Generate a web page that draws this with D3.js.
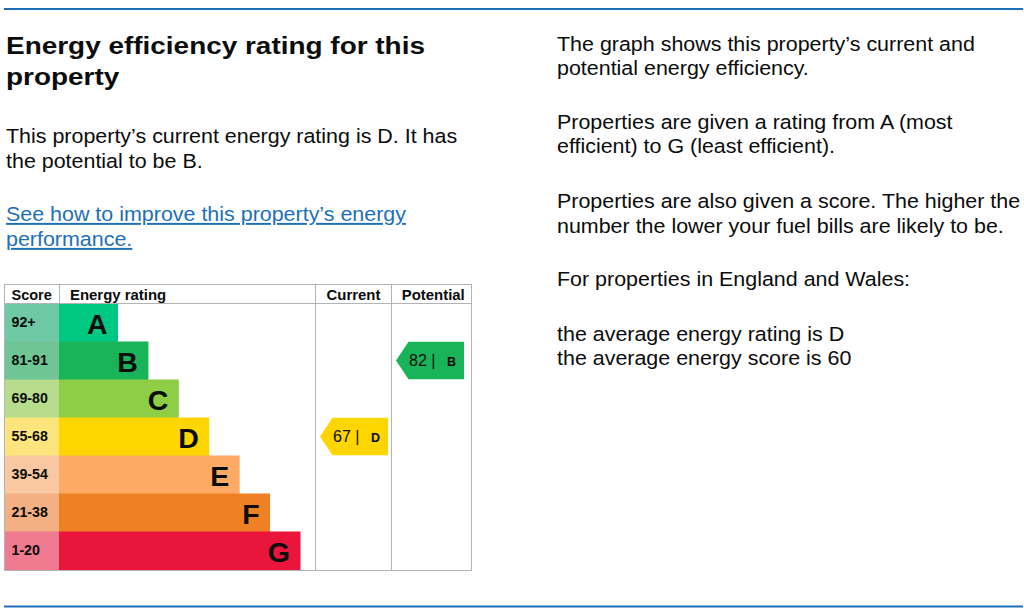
<!DOCTYPE html>
<html><head><meta charset="utf-8">
<script src="https://cdn.jsdelivr.net/npm/d3@7"></script>
<style>body{margin:0;background:#fff;overflow:hidden}</style>
</head><body><svg id="c" width="1024" height="613"></svg>
<script>
// ---- data ----
const bandLetters = ["A","B","C","D","E","F","G"];
const bandRanges = ["92+","81-91","69-80","55-68","39-54","21-38","1-20"];
const bandMinScores = [92,81,69,55,39,21,1];
const barColors = ["#00c781","#19b459","#8dce46","#ffd500","#fcaa65","#ef8023","#e9153b"];
const scoreColors = ["#6fc9a4","#6fc593","#b6dc8c","#fee47c","#f9c7a0","#f3b082","#f07b91"];
const columnHeaders = ["Score","Energy rating","Current","Potential"];
const currentScore = 67;
const potentialScore = 82;
const titleLines = ["Energy efficiency rating for this","property"];
const introLines = ["This property\u2019s current energy rating is D. It has","the potential to be B."];
const linkLines = ["See how to improve this property\u2019s energy","performance."];
const rightParas = [
  ["The graph shows this property\u2019s current and","potential energy efficiency."],
  ["Properties are given a rating from A (most","efficient) to G (least efficient)."],
  ["Properties are also given a score. The higher the","number the lower your fuel bills are likely to be."],
  ["For properties in England and Wales:"],
  ["the average energy rating is D","the average energy score is 60"]
];

// ---- drawing ----
const FONT = "'Liberation Sans', Arial, Helvetica, sans-serif";
const svg = d3.select("#c").style("font-family", FONT);
svg.append("rect").attr("width",1024).attr("height",613).attr("fill","#fff");

function txt(g, x, y, s, o) {
  o = o || {};
  return g.append("text")
    .attr("transform", `translate(${x},${y}) scale(${o.sx || 1},1)`)
    .attr("font-size", o.size || 19)
    .attr("font-weight", o.weight || "normal")
    .attr("fill", o.fill || "#0b0c0c")
    .attr("text-anchor", o.anchor || "start")
    .text(s);
}

// blue rules
svg.append("line").attr("x1",4).attr("x2",1023).attr("y1",9).attr("y2",9)
  .attr("stroke","#1d70b8").attr("stroke-width",2);
svg.append("line").attr("x1",4).attr("x2",1023).attr("y1",606.5).attr("y2",606.5)
  .attr("stroke","#1d70b8").attr("stroke-width",2);

// left text
titleLines.forEach((s,i)=>txt(svg,6,54,s,{size:24.5,weight:"bold",sx:1.14,fill:"#0b0c0c"}).attr("transform",`translate(6,${54+i*31}) scale(1.14,1)`));
introLines.forEach((s,i)=>txt(svg,6,142.5+i*25,s,{size:19.5,sx:1.1}));
linkLines.forEach((s,i)=>txt(svg,6,221+i*25,s,{size:19.5,sx:1.1,fill:"#1d70b8"})
  .attr("text-decoration","underline"));

// right text
const rightBase = [50.5,128.5,208,285.5,340.5];
rightParas.forEach((p,pi)=>p.forEach((s,i)=>txt(svg,557,rightBase[pi]+i*24.5,s,{size:19.5,sx:1.1})));

// table geometry via scales
const tLeft = 4, tRight = 471, tTop = 284, headBot = 303.5, tBot = 569.5;
const scoreColEnd = 59, curCol = [315.5,391.5], potCol = [391.5,471];
const y = d3.scaleBand().domain(bandLetters).range([headBot, tBot]).padding(0);
const barEnd = d3.scaleLinear().domain([0, bandLetters.length-1]).range([118, 300.5]);

const rows = svg.append("g");
bandLetters.forEach((L,i)=>{
  rows.append("rect").attr("x",tLeft).attr("y",y(L)).attr("width",scoreColEnd-tLeft)
    .attr("height",y.bandwidth()+0.5).attr("fill",scoreColors[i]);
  rows.append("rect").attr("x",scoreColEnd).attr("y",y(L)).attr("width",barEnd(i)-scoreColEnd)
    .attr("height",y.bandwidth()+0.5).attr("fill",barColors[i]);
  txt(rows,11.5,y(L)+23.5,bandRanges[i],{size:14.5,weight:"bold",sx:0.98,fill:"#0b0c0c"});
  txt(rows,barEnd(i)-10.5,y(L)+30,L,{size:28.5,weight:"bold",anchor:"end",fill:"#0b0c0c"});
});

// header
const hy = 300;
txt(svg,11.5,hy,columnHeaders[0],{size:14.5,weight:"bold"});
txt(svg,70,hy,columnHeaders[1],{size:14.5,weight:"bold",sx:1.03});
txt(svg,(curCol[0]+curCol[1])/2,hy,columnHeaders[2],{size:14.5,weight:"bold",sx:1.03,anchor:"middle"});
txt(svg,(potCol[0]+potCol[1])/2+2,hy,columnHeaders[3],{size:14.5,weight:"bold",sx:1.03,anchor:"middle"});

// borders
const bc = "#b1b4b6";
const bg = svg.append("g").attr("stroke",bc).attr("stroke-width",1).attr("fill","none");
bg.append("rect").attr("x",tLeft+0.5).attr("y",tTop+0.5).attr("width",tRight-tLeft).attr("height",tBot-tTop+0.5);
bg.append("line").attr("x1",tLeft).attr("x2",tRight).attr("y1",headBot).attr("y2",headBot);
bg.append("line").attr("x1",scoreColEnd+0.5).attr("x2",scoreColEnd+0.5).attr("y1",tTop).attr("y2",headBot);
bg.append("line").attr("x1",curCol[0]).attr("x2",curCol[0]).attr("y1",tTop).attr("y2",tBot+0.5);
bg.append("line").attr("x1",curCol[1]).attr("x2",curCol[1]).attr("y1",tTop).attr("y2",tBot+0.5);

// arrows
function bandIndex(score){ return bandMinScores.findIndex(m=>score>=m); }
function arrow(col, score, dx){
  const i = bandIndex(score), L = bandLetters[i];
  const y0 = y(L)+0.3, y1 = y(L)+y.bandwidth()-0.3, ym = (y0+y1)/2;
  const tip = col[0]+dx, right = col[0]+72.5;
  svg.append("path")
    .attr("d", d3.line()([[tip,ym],[tip+12.5,y0],[right,y0],[right,y1],[tip+12.5,y1]]) + "Z")
    .attr("fill", barColors[i]);
  txt(svg, tip+13, y(L)+24, score + " |", {size:16, fill:"#0b0c0c"});
  txt(svg, tip+51, y(L)+24, L, {size:12.5, weight:"bold", fill:"#0b0c0c"});
}
arrow(curCol, currentScore, 4.5);
arrow(potCol, potentialScore, 4.5);
</script>
</body></html>
